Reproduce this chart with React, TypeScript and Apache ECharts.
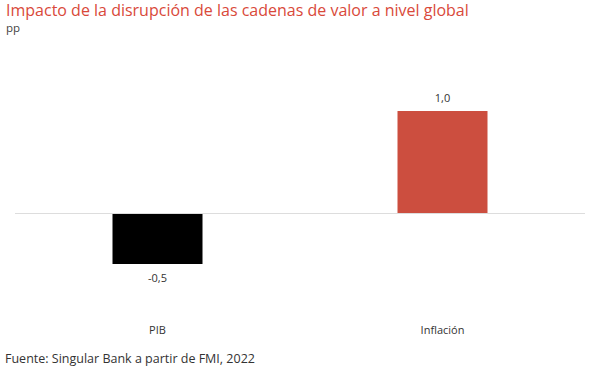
import React, { useEffect, useRef } from "react";
import * as echarts from "echarts";

const categories = ["PIB", "Inflación"];
const values = [-0.5, 1.0];
const barColors = ["#000000", "#cc4e3f"];

export default function App() {
  const ref = useRef<HTMLDivElement>(null);
  useEffect(() => {
    const chart = echarts.init(ref.current!, null, { renderer: "svg" });
    chart.setOption({
      animation: false,
      textStyle: { fontFamily: "Open Sans" },
      title: [
        {
          text: "Impacto de la disrupción de las cadenas de valor a nivel global",
          left: 6,
          top: 2,
          padding: 0,
          textStyle: { color: "#d9493a", fontSize: 16, fontWeight: "normal", fontFamily: "Open Sans" },
        },
        {
          text: "pp",
          left: 6,
          top: 21,
          padding: 0,
          textStyle: { color: "#444", fontSize: 11.5, fontWeight: "normal", fontFamily: "Open Sans" },
        },
        {
          text: "Fuente: Singular Bank a partir de FMI, 2022",
          left: 5,
          top: 352,
          padding: 0,
          textStyle: { color: "#333", fontSize: 12.5, fontWeight: "normal", fontFamily: "Open Sans" },
        },
      ],
      grid: { left: 15, right: 15, top: 60, bottom: 59 },
      xAxis: {
        type: "category",
        data: categories,
        position: "bottom",
        axisLine: { show: false },
        axisTick: { show: false },
        axisLabel: { color: "#333", fontSize: 11, margin: 9, fontFamily: "Open Sans" },
      },
      yAxis: {
        type: "value",
        min: -1,
        max: 1.5,
        show: false,
        splitLine: { show: false },
      },
      series: [
        {
          type: "bar",
          barWidth: 90,
          data: values.map((v, i) => ({ value: v, itemStyle: { color: barColors[i] } })),
          label: {
            show: true,
            position: "outside",
            color: "#333",
            fontSize: 11,
            distance: 8,
            fontFamily: "Open Sans",
            formatter: (p: any) => p.value.toFixed(1).replace(".", ","),
          },
          markLine: {
            silent: true,
            symbol: "none",
            label: { show: false },
            lineStyle: { color: "#dddddd", type: "solid", width: 1 },
            data: [{ yAxis: 0 }],
          },
          z: 3,
        },
      ],
    });
    return () => chart.dispose();
  }, []);
  return <div ref={ref} style={{ width: 600, height: 374, position: "absolute", left: 0, top: 0 }} />;
}
